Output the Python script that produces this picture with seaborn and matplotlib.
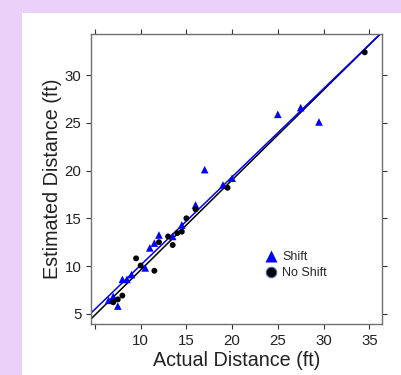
import pandas as pd
import matplotlib.pyplot as plt
import seaborn as sns
from matplotlib.lines import Line2D
from matplotlib.patches import Rectangle

# Shift group (blue triangles)
shift_actual = [6.5, 7.0, 7.5, 8.0, 8.5, 9.0, 10.5, 11.0, 11.5, 12.0, 13.5, 14.5,
                16.0, 17.0, 19.0, 20.0, 25.0, 27.5, 29.5]
shift_est = [6.4, 6.8, 5.8, 8.6, 8.6, 9.1, 9.8, 11.9, 12.4, 13.25, 13.1, 14.3,
             16.4, 20.1, 18.5, 19.2, 25.9, 26.6, 25.1]

# No Shift group (black circles)
noshift_actual = [7.0, 7.5, 8.0, 9.5, 10.0, 11.5, 12.0, 13.0, 13.5, 14.0, 14.5,
                  15.0, 16.0, 19.5, 34.5]
noshift_est = [6.2, 6.5, 6.9, 10.8, 10.05, 9.5, 12.5, 13.1, 12.2, 13.45, 13.6,
               15.0, 15.95, 18.2, 32.4]

# fitted lines (intercept, slope)
fit_shift = (0.84, 0.925)
fit_noshift = (0.14, 0.944)

x_ticks = [5, 10, 15, 20, 25, 30, 35]
x_labels = ['', '10', '15', '20', '25', '30', '35']
y_ticks = [5, 10, 15, 20, 25, 30]

df = pd.DataFrame({
    'Actual': shift_actual + noshift_actual,
    'Estimated': shift_est + noshift_est,
    'Group': ['Shift'] * len(shift_actual) + ['No Shift'] * len(noshift_actual),
})

sns.set_theme(style="white")
plt.rcParams['font.family'] = ['Liberation Sans', 'DejaVu Sans']

W, H = 401, 375
fig = plt.figure(figsize=(W / 100, H / 100), dpi=100, facecolor='#EBD0FA')
fig.patches.append(Rectangle((22 / W, 0), 1, 1 - 13 / H, transform=fig.transFigure,
                             facecolor='white', edgecolor='none', zorder=-10))
ax = fig.add_axes([91 / W, (H - 324) / H, 291 / W, 290 / H])
ax.set_facecolor('white')
ax.set_zorder(5)

xlim = (4.57, 36.39)
ylim = (3.92, 34.32)
ax.set_xlim(xlim)
ax.set_ylim(ylim)

for (b0, b1), col, z in [(fit_noshift, 'black', 2), (fit_shift, '#0000FF', 2.5)]:
    ax.plot(xlim, [b0 + b1 * xlim[0], b0 + b1 * xlim[1]], color=col, lw=1.1, zorder=z)

sns.scatterplot(data=df, x='Actual', y='Estimated', hue='Group', style='Group',
                palette={'Shift': '#0000FF', 'No Shift': 'black'},
                markers={'Shift': '^', 'No Shift': 'o'},
                size='Group', sizes={'Shift': 30, 'No Shift': 18},
                edgecolor='none', linewidth=0, legend=False, ax=ax, zorder=3)

for s in ax.spines.values():
    s.set_color('#707070')
    s.set_linewidth(1.0)

ax.set_xticks(x_ticks)
ax.set_xticklabels(x_labels)
ax.set_yticks(y_ticks)
ax.tick_params(axis='both', direction='out', length=3.5, width=0.8, color='#333333',
               labelsize=10.8, labelcolor='#222222', pad=3.5,
               top=True, right=True, bottom=True, left=True)
ax.set_xlabel('Actual Distance (ft)', fontsize=14.2, color='#222222', labelpad=2)
ax.set_ylabel('Estimated Distance (ft)', fontsize=14.2, color='#222222', labelpad=2)

handles = [
    Line2D([], [], marker='^', color='#0000FF', linestyle='none', markersize=9,
           markeredgecolor='none'),
    Line2D([], [], marker='o', color='black', linestyle='none', markersize=7.5,
           markeredgecolor='#3A6FB0', markeredgewidth=0.8),
]
ax.legend(handles, ['Shift', 'No Shift'], loc='center left',
          bbox_to_anchor=((258.5 - 91) / 291, (324 - 265.3) / 290), frameon=False,
          fontsize=9, handlelength=1.0, handletextpad=0.4, labelspacing=0.3,
          borderpad=0)

fig.savefig('out.png', dpi=100, facecolor=fig.get_facecolor())
